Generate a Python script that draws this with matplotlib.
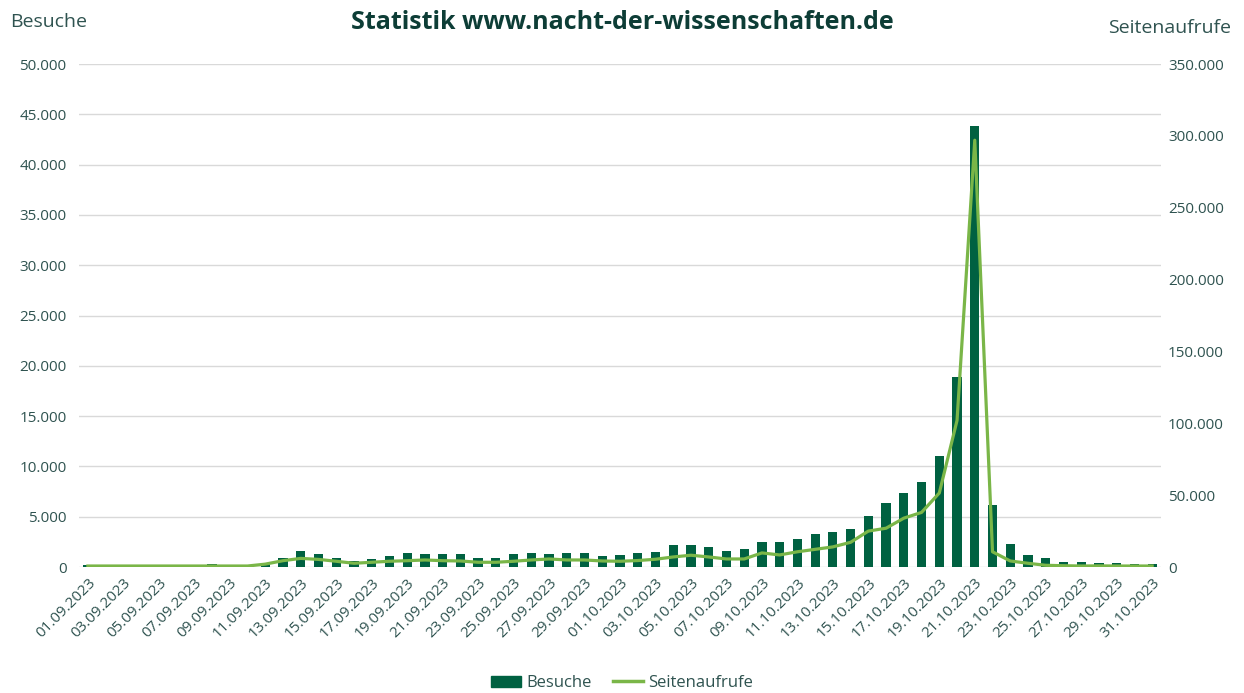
import datetime as dt
import matplotlib.pyplot as plt
from matplotlib.ticker import FuncFormatter, MultipleLocator
from matplotlib.lines import Line2D
from matplotlib.patches import Patch

plt.rcParams["font.family"] = ["Open Sans", "DejaVu Sans"]

# one value per day, 01.09.2023 - 31.10.2023
start = dt.date(2023, 9, 1)
dates = [(start + dt.timedelta(days=i)).strftime("%d.%m.%Y") for i in range(61)]

besuche = [
    200, 60, 60, 60, 60, 60, 60, 330, 80, 80,
    430, 930, 1600, 1270, 930, 630, 830, 1070, 1370, 1270,
    1270, 1270, 900, 900, 1300, 1400, 1300, 1400, 1400, 1100,
    1200, 1400, 1500, 2200, 2200, 2000, 1600, 1800, 2500, 2500,
    2800, 3300, 3500, 3800, 5100, 6400, 7400, 8500, 11000, 18900,
    43850, 6200, 2300, 1200, 870, 530, 530, 430, 430, 300,
    300,
]

seitenaufrufe = [
    700, 700, 700, 700, 700, 700, 700, 700, 700, 700,
    2000, 4400, 6000, 5300, 4000, 2600, 3300, 4000, 4400, 4900,
    4400, 4200, 3300, 3300, 4000, 4900, 5600, 4900, 4900, 4200,
    4000, 4500, 5400, 7000, 8200, 7000, 5600, 5600, 9800, 8400,
    10600, 12300, 14000, 17200, 25000, 27000, 34000, 38000, 51500, 102000,
    297000, 10600, 4200, 2600, 1200, 900, 700, 800, 700, 700,
    700,
]

dark = "#006141"
light = "#7ab648"
text_col = "#2f5350"
grid_col = "#d9d9d9"

fig = plt.figure(figsize=(12.44, 6.93), dpi=100)
ax = fig.add_axes([0.0635, 0.1818, 0.8698, 0.7258])
ax2 = ax.twinx()

x = list(range(len(dates)))
ax.bar(x, besuche, width=0.52, color=dark, zorder=2)
ax2.plot(x, seitenaufrufe, color=light, linewidth=2.3, zorder=3)

ax.set_xlim(-0.5, len(dates) - 0.5)
ax.set_ylim(0, 50000)
ax2.set_ylim(0, 350000)
ax.yaxis.set_major_locator(MultipleLocator(5000))
ax2.yaxis.set_major_locator(MultipleLocator(50000))

de_fmt = FuncFormatter(lambda v, p: f"{int(v):,}".replace(",", "."))
ax.yaxis.set_major_formatter(de_fmt)
ax2.yaxis.set_major_formatter(de_fmt)

ax.set_xticks(x[::2])
ax.set_xticklabels(dates[::2], rotation=45, ha="right", rotation_mode="anchor")

ax.grid(axis="y", color=grid_col, linewidth=1, zorder=0)
ax.set_axisbelow(True)
for a in (ax, ax2):
    for s in a.spines.values():
        s.set_visible(False)
    a.tick_params(length=0, colors=text_col, labelsize=11)
ax.tick_params(axis="y", pad=9)
ax.tick_params(axis="x", pad=6)
ax2.tick_params(axis="y", pad=5)

fig.text(0.5, 0.968, "Statistik www.nacht-der-wissenschaften.de", ha="center", va="center",
         fontsize=18, fontweight="bold", color="#0d3d36")
fig.text(0.008, 0.968, "Besuche", ha="left", va="center", fontsize=14, color=text_col)
fig.text(0.99, 0.96, "Seitenaufrufe", ha="right", va="center", fontsize=14, color=text_col)

handles = [Patch(color=dark, label="Besuche"),
           Line2D([0], [0], color=light, linewidth=2.5, label="Seitenaufrufe")]
leg = fig.legend(handles=handles, loc="center", bbox_to_anchor=(0.5, 0.014), ncol=2,
                 frameon=False, fontsize=12, handlelength=1.8, columnspacing=1.3,
                 handletextpad=0.3)
for t in leg.get_texts():
    t.set_color(text_col)

fig.savefig("out.png", dpi=100)
